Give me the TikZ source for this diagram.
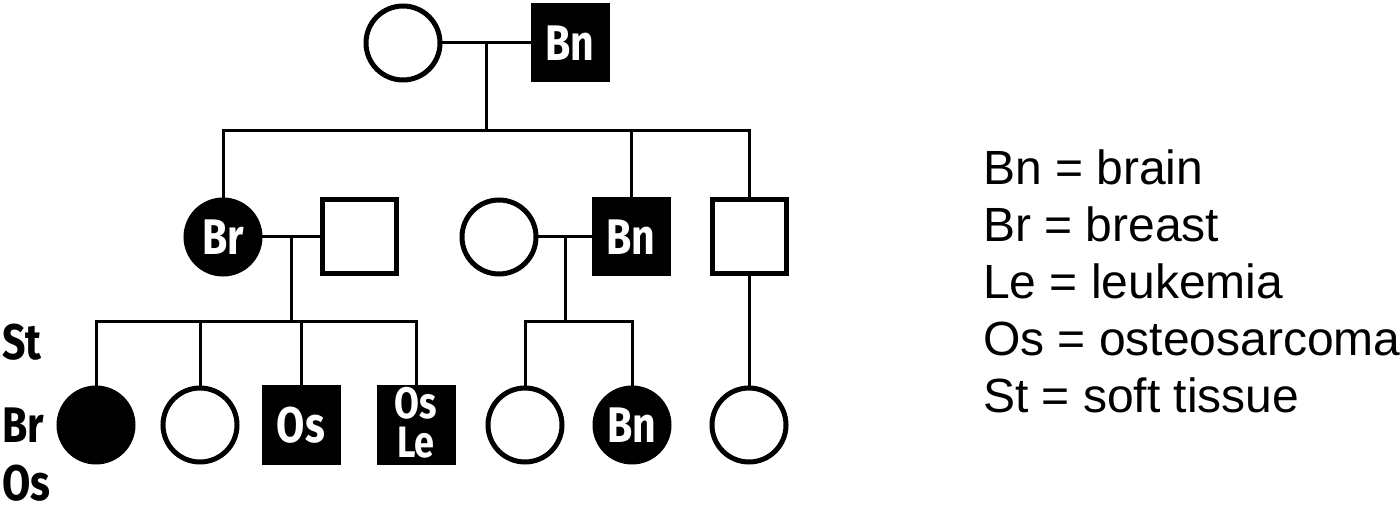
\documentclass[tikz,border=0pt]{standalone}
\usepackage{fontspec}
\setmainfont{Liberation Sans}
\newfontfamily\pedfont[FakeStretch=0.82]{Fira Sans}
\usetikzlibrary{calc}
\tikzset{
  person/.style={draw=black, line width=5pt, minimum size=74pt, inner sep=0pt,
    font=\pedfont\bfseries\fontsize{50}{50}\selectfont},
  female/.style={person, circle},
  male/.style={person, rectangle},
  affected/.style={fill=black, text=white},
  link/.style={line width=3pt, line cap=rect},
  boxtext/.style={inner sep=0pt, text=white, font=\pedfont\bfseries\fontsize{44}{44}\selectfont},
  sidelabel/.style={anchor=west, inner sep=0pt, font=\pedfont\bfseries\fontsize{50}{50}\selectfont},
  legend/.style={anchor=base west, inner sep=0pt, font=\fontsize{48}{57}\selectfont}
}
\begin{document}
\begin{tikzpicture}[x=1pt, y=-1pt]
\useasboundingbox (0,0) rectangle (1400,510);

% generation I
\node[female] (g1w) at (403,43) {};
\node[male, affected] (g1m) at (570,43) {Bn};

% generation II
\node[female, affected] (br) at (223,237) {Br};
\node[male] (brh) at (359,237) {};
\node[female] (bnw) at (499,237) {};
\node[male, affected] (bn) at (631,237) {Bn};
\node[male] (un) at (749,237) {};

% generation III
\node[female, affected] (k1) at (96,425) {};
\node[female] (k2) at (200,425) {};
\node[male, affected] (k3) at (301,425) {\raisebox{-4pt}{Os}};
\node[male, affected] (k4) at (416,425) {};
\node[boxtext] (k4a) at (416,403) {Os};
\node[boxtext] (k4b) at (416,443) {Le};
\node[female] (k5) at (525,425) {};
\node[female, affected] (k6) at (632,425) {Bn};
\node[female] (k7) at (749,425) {};

% tumour list beside the first grandchild
\node[sidelabel] (stl) at (2,342) {St};
\node[sidelabel] (brl) at (2,425) {Br};
\node[sidelabel] (osl) at (2,483) {Os};

% couple lines and descent points
\coordinate (m1) at ($(g1w.east)!0.5!(g1m.west)$);
\coordinate (m2) at ($(br.east)!0.5!(brh.west)$);
\coordinate (m3) at ($(bnw.east)!0.5!(bn.west)$);
\coordinate (s1) at ($(m1)+(0,88)$);
\coordinate (s2) at ($(m2)+(0,85)$);
\coordinate (s3) at ($(m3)+(0,85)$);

\draw[link] (g1w) -- (g1m);
\draw[link] (br) -- (brh);
\draw[link] (bnw) -- (bn);

\draw[link] (m1) -- (s1);
\draw[link] (m2) -- (s2);
\draw[link] (m3) -- (s3);

% sibships
\draw[link] (br.north) |- (s1) -| (un.north);
\draw[link] (bn.north) -- (bn.north |- s1);

\draw[link] (k1.north) |- (s2) -| (k4.north);
\draw[link] (k2.north) -- (k2.north |- s2);
\draw[link] (k3.north) -- (k3.north |- s2);

\draw[link] (k5.north) |- (s3) -| (k6.north);

\draw[link] (un.south) -- (k7.north);

% key
\node[legend] (l1) at (983,185) {Bn = brain};
\node[legend] (l2) at (983,242) {Br = breast};
\node[legend] (l3) at (983,299) {Le = leukemia};
\node[legend] (l4) at (983,356) {Os = osteosarcoma};
\node[legend] (l5) at (983,413) {St = soft tissue};
\end{tikzpicture}
\end{document}
